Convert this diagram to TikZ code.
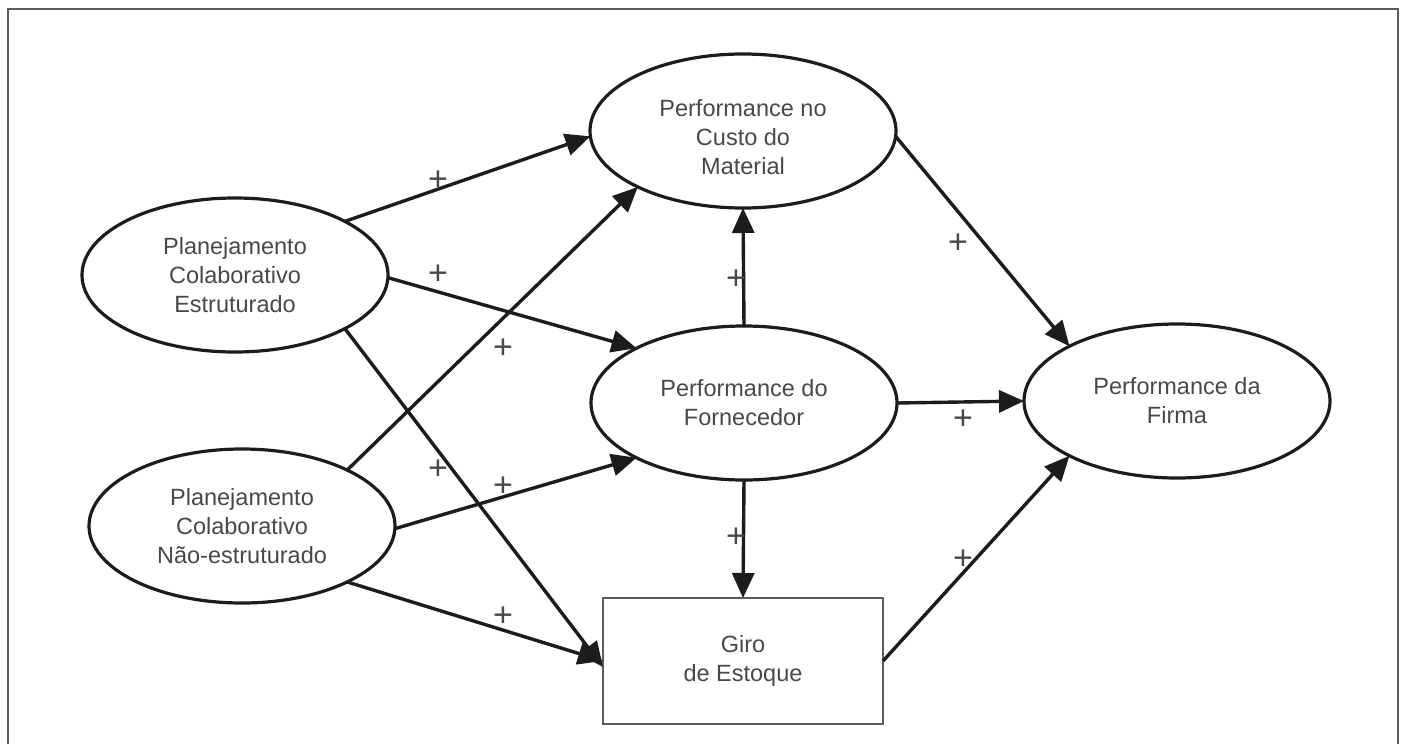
\documentclass[tikz,border=0pt]{standalone}
\usepackage{fontspec}
\setmainfont{Liberation Sans}
\usetikzlibrary{arrows.meta,shapes.geometric}
\definecolor{ink}{HTML}{1C1C1C}
\definecolor{txt}{HTML}{484848}
\definecolor{framegray}{HTML}{5C5C5C}
\newcommand\diaglabel{\fontsize{11.75}{14.5}\selectfont}
\begin{document}
\begin{tikzpicture}[x=0.5pt,y=-0.5pt,
  construct/.style={ellipse, draw=ink, line width=1.6pt, minimum width=153pt,
    minimum height=77pt, inner sep=0pt, outer sep=0pt, align=center,
    text=txt, font=\diaglabel},
  measure/.style={rectangle, draw=framegray, line width=1pt, minimum width=140pt,
    minimum height=63pt, inner sep=0pt, outer sep=0pt, align=center,
    text=txt, font=\diaglabel},
  link/.style={draw=ink, line width=1.7pt, -{Triangle[length=12.5pt,width=11pt]}},
  sign/.style={text=txt, font=\fontsize{17}{17}\selectfont, inner sep=0pt}]
  \useasboundingbox (0,0) rectangle (1402,744);
  % outer frame (open at the bottom)
  \draw[framegray, line width=1pt] (8,744) -- (8,9) -- (1398,9) -- (1398,744);

  % constructs
  \node[construct] (pce)  at (235,275) {Planejamento\\Colaborativo\\Estruturado};
  \node[construct] (pcne) at (242,526) {Planejamento\\Colaborativo\\Não-estruturado};
  \node[construct] (cost) at (743,131) {\rule{0pt}{14.5pt}Performance no\\Custo do\\Material};
  \node[construct] (forn) at (744,403) {Performance do\\Fornecedor};
  \node[construct] (firm) at (1177,401) {Performance da\\Firma};
  \node[measure]   (giro) at (743,661) {Giro\\de Estoque};

  % paths
  \draw[link] (pce.26)   -- (cost.182);
  \draw[link] (pce.-1)   -- (forn.153);
  \draw[link] (pce.-26)  -- ([yshift=-3pt]giro.west);
  \draw[link] (pcne.28)  -- (cost.208);
  \draw[link] (pcne.-1)  -- (forn.207);
  \draw[link] (pcne.-28) -- (giro.west);
  \draw[link] (forn.north) -- (cost.south);
  \draw[link] (forn.south) -- (giro.north);
  \draw[link] (forn.east)  -- (firm.west);
  \draw[link] (cost.-2)  -- (firm.153);
  \draw[link] (giro.east) -- (firm.207);

  % signs of the paths
  \node[sign] (s1)  at (438,181) {+};
  \node[sign] (s2)  at (438,275) {+};
  \node[sign] (s3)  at (503,349) {+};
  \node[sign] (s4)  at (438,470) {+};
  \node[sign] (s5)  at (503,487) {+};
  \node[sign] (s6)  at (503,617) {+};
  \node[sign] (s7)  at (736,280) {+};
  \node[sign] (s8)  at (736,538) {+};
  \node[sign] (s9)  at (963,420) {+};
  \node[sign] (s10) at (958,244) {+};
  \node[sign] (s11) at (963,560) {+};
\end{tikzpicture}
\end{document}
